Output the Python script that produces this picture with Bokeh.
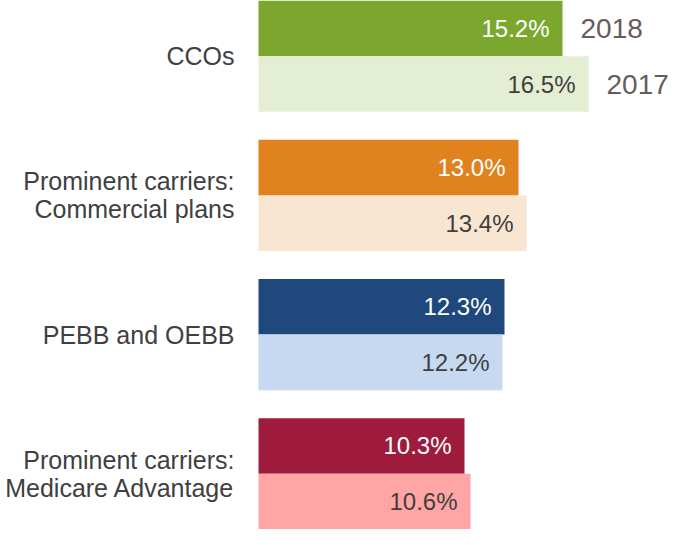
from bokeh.plotting import figure
from bokeh.models import FactorRange, Range1d, ColumnDataSource
from bokeh.core.properties import value
from bokeh.embed import file_html
from bokeh.resources import INLINE

categories = ["CCOs", "Prominent carriers:\nCommercial plans", "PEBB and OEBB",
              "Prominent carriers:\nMedicare Advantage"]
years = ["2018", "2017"]
values_2018 = [15.2, 13.0, 12.3, 10.3]
values_2017 = [16.5, 13.4, 12.2, 10.6]
colors_2018 = ["#7CA72F", "#E0821E", "#1F497D", "#9E1B3E"]
colors_2017 = ["#E4EED2", "#F8E5D2", "#C6D9F1", "#FFA5A5"]

FONT = "Liberation Sans"

factors = []
vals = []
cols = []
labcols = []
for i, c in enumerate(categories):
    factors.append((c, years[0])); vals.append(values_2018[i]); cols.append(colors_2018[i]); labcols.append("#FFFFFF")
    factors.append((c, years[1])); vals.append(values_2017[i]); cols.append(colors_2017[i]); labcols.append("#3F3F3F")

src = ColumnDataSource(dict(y=factors, v=vals, c=cols, lc=labcols,
                            t=["%.1f%%" % v for v in vals]))

yr = FactorRange(*reversed(factors), group_padding=0.5, factor_padding=0.0,
                 subgroup_padding=0.0, range_padding=0.0)

p = figure(width=669, height=529, y_range=yr, x_range=Range1d(-12.9, 20.55),
           output_backend="svg", toolbar_location=None, min_border=0)
p.outline_line_color = None
p.axis.visible = False
p.grid.visible = False
p.background_fill_color = "white"

p.hbar(y="y", left=0, right="v", height=1.0, fill_color="c", line_color=None, source=src)

p.text(x="v", y="y", text="t", source=src, text_color="lc", text_align="right",
       text_baseline="middle", x_offset=-13, text_font=value(FONT), text_font_size="24px")

# year labels next to CCOs bars
ysrc = ColumnDataSource(dict(y=factors[:2], v=vals[:2], t=years))
p.text(x="v", y="y", text="t", source=ysrc, text_color="#675C5C", text_align="left",
       text_baseline="middle", x_offset=18, text_font=value(FONT),
       text_font_size="28px")

# category labels
csrc = ColumnDataSource(dict(y=categories, x=[0] * len(categories), t=categories))
p.text(x="x", y="y", text="t", source=csrc, text_color="#404040", text_align="right",
       text_baseline="middle", x_offset=-24, text_font=value(FONT),
       text_font_size="25px", text_line_height=1.0)

open("out.html", "w").write(file_html(p, INLINE))
